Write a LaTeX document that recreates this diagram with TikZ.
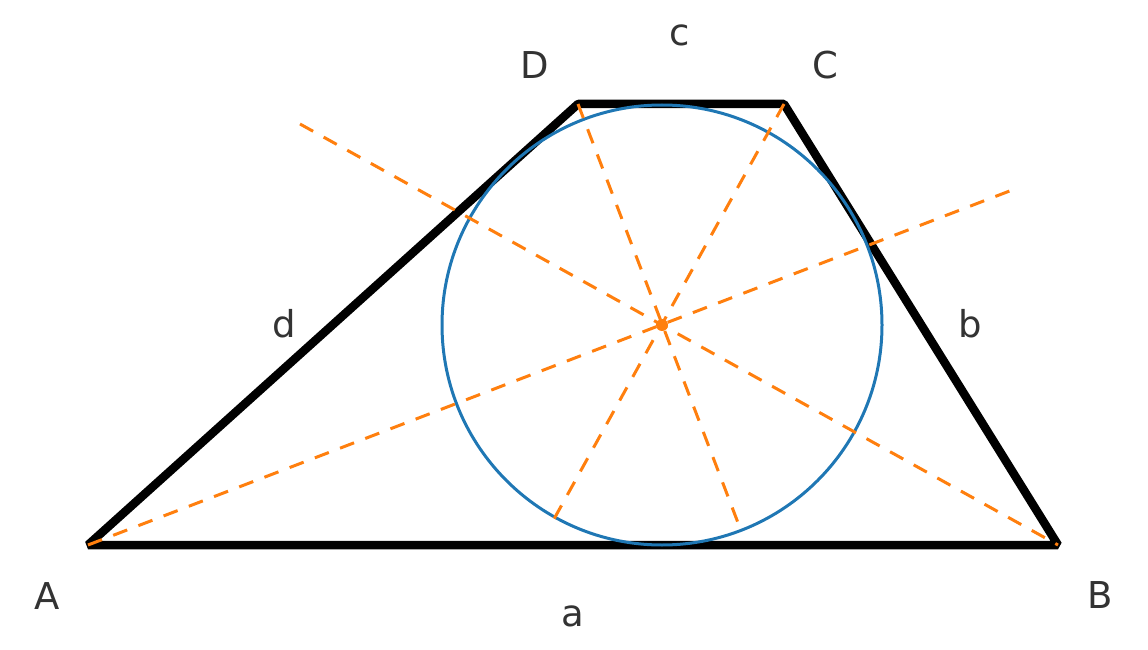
\documentclass[tikz,border=0pt]{standalone}
\usepackage{fontspec}
\setmainfont{DejaVu Sans}
\definecolor{mblue}{HTML}{1F77B4}
\definecolor{morange}{HTML}{FF7F0E}
\definecolor{mtext}{HTML}{333333}
\begin{document}
\begin{tikzpicture}[x=1pt,y=-1pt,
  edge/.style={line width=8.5pt,black,line join=bevel},
  incircle/.style={line width=3pt,mblue},
  bisector/.style={line width=3pt,morange,dash pattern=on 15pt off 12pt},
  lbl/.style={font=\fontsize{37}{37}\selectfont,text=mtext,anchor=base,inner sep=0pt}]
\useasboundingbox (0,0) rectangle (1148,650);
\coordinate (A) at (88,545);
\coordinate (B) at (1058,545);
\coordinate (C) at (784,104);
\coordinate (D) at (578,104);
\coordinate (O) at (662,325);
\coordinate (EA) at (1020,187);
\coordinate (EB) at (300,124);
\coordinate (EC) at (549,528);
\coordinate (ED) at (740,528);
\draw[edge] (A) -- (B) -- (C) -- (D) -- cycle;
\draw[incircle] (O) circle[radius=220];
\draw[bisector] (A) -- (EA);
\draw[bisector] (EB) -- (B);
\draw[bisector] (C) -- (EC);
\draw[bisector] (D) -- (ED);
\fill[morange] (O) circle[radius=6];
\node[lbl] (lA) at (47,609) {A};
\node[lbl] (lB) at (1100,608) {B};
\node[lbl] (lC) at (825,79) {C};
\node[lbl] (lD) at (535,79) {D};
\node[lbl] (lc) at (680,46) {c};
\node[lbl] (la) at (573,626) {a};
\node[lbl] (ld) at (284,337) {d};
\node[lbl] (lb) at (970,337) {b};
\end{tikzpicture}
\end{document}
